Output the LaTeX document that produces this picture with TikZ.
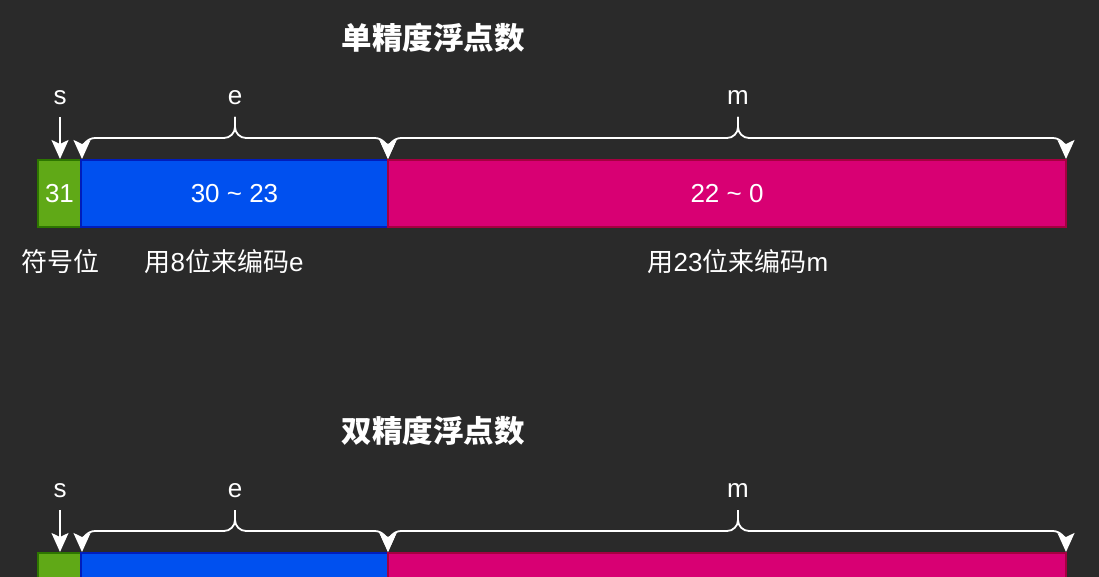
\documentclass[tikz,border=0pt]{standalone}
\usepackage{fontspec}
\setmainfont{Liberation Sans}
\newfontfamily\cjk{Noto Sans CJK SC}
\usetikzlibrary{arrows.meta}
\definecolor{bg}{HTML}{2A2A2A}
\definecolor{gfill}{HTML}{60A917}
\definecolor{gline}{HTML}{2D7600}
\definecolor{bfill}{HTML}{0050EF}
\definecolor{bline}{HTML}{001DBC}
\definecolor{mfill}{HTML}{D80073}
\definecolor{mline}{HTML}{A50040}
\tikzset{
  bitbox/.style={draw, line width=2pt, inner sep=0pt, minimum height=67pt, text=white, font=\fontsize{26}{30}\selectfont},
  lbl/.style={text=white, inner sep=0pt, font=\fontsize{26}{30}\selectfont},
  ttl/.style={text=white, inner sep=0pt, font=\cjk\bfseries\fontsize{30.5}{34}\selectfont},
  arr/.style={draw=white, line width=1.8pt, -{Stealth[length=19pt,width=17pt,inset=4pt]}},
}
\begin{document}
\begin{tikzpicture}[x=1pt,y=-1pt]
\useasboundingbox (0,0) rectangle (1099,577);
\fill[bg] (0,0) rectangle (1099,577);
\clip (0,0) rectangle (1099,577);
\foreach \r/\dy/\tt in {a/0/单精度浮点数, b/393/双精度浮点数}{
  \node[ttl] (title\r) at (433,38+\dy) {\tt};
  \node[lbl] (s\r) at (60,98+\dy) {s};
  \node[lbl] (e\r) at (235,98+\dy) {e};
  \node[lbl] (m\r) at (738,98+\dy) {m};
  \coordinate (stop\r) at (60,117+\dy);
  \coordinate (stip\r) at (60,159+\dy);
  \coordinate (ecusp\r) at (235,117+\dy);
  \coordinate (mcusp\r) at (738,117+\dy);
  \coordinate (eleft\r) at (82,159+\dy);
  \coordinate (mid\r) at (388,159+\dy);
  \coordinate (mright\r) at (1066,159+\dy);
  \draw[arr] (stop\r) -- (stip\r);
  % e brace
  \draw[arr] (ecusp\r) -- ++(0,10) to[out=-90,in=0] ++(-11,11) -- (95,138+\dy) to[out=180,in=90] (eleft\r);
  \draw[arr] (ecusp\r) -- ++(0,10) to[out=-90,in=180] ++(11,11) -- (375,138+\dy) to[out=0,in=90] (mid\r);
  % m brace
  \draw[arr] (mcusp\r) -- ++(0,10) to[out=-90,in=0] ++(-11,11) -- (401,138+\dy) to[out=180,in=90] (mid\r);
  \draw[arr] (mcusp\r) -- ++(0,10) to[out=-90,in=180] ++(11,11) -- (1053,138+\dy) to[out=0,in=90] (mright\r);
}
% row a boxes
\node[bitbox, fill=gfill, draw=gline, minimum width=43pt] (sa) at (59.5,193.5) {31};
\node[bitbox, fill=bfill, draw=bline, minimum width=307pt] (ea) at (234.5,193.5) {30 \textasciitilde{} 23};
\node[bitbox, fill=mfill, draw=mline, minimum width=678pt] (ma) at (727,193.5) {22 \textasciitilde{} 0};
\node[lbl] (la1) at (60,262) {\cjk 符号位};
\node[lbl] (la2) at (224,262) {{\cjk 用}8{\cjk 位来编码}e};
\node[lbl] (la3) at (738,262) {{\cjk 用}23{\cjk 位来编码}m};
% row b boxes (cut off by the frame)
\node[bitbox, fill=gfill, draw=gline, minimum width=43pt] (sb) at (59.5,586.5) {};
\node[bitbox, fill=bfill, draw=bline, minimum width=307pt] (eb) at (234.5,586.5) {};
\node[bitbox, fill=mfill, draw=mline, minimum width=678pt] (mb) at (727,586.5) {};
\end{tikzpicture}
\end{document}
